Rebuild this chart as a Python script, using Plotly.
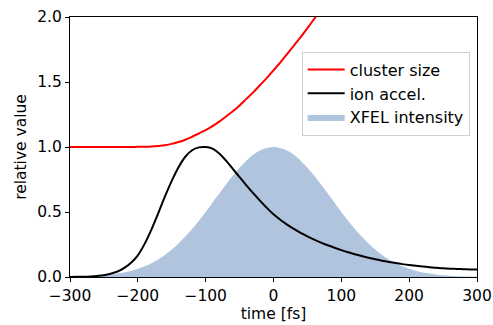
import plotly.graph_objects as go

# time axis in fs, 10 fs steps
time_fs = list(range(-300, 301, 10))

# XFEL pulse intensity (normalised)
xfel_intensity = [
    0.002, 0.003, 0.004, 0.006, 0.009, 0.013, 0.019, 0.026, 0.035, 0.047,
    0.063, 0.082, 0.106, 0.135, 0.170, 0.211, 0.258, 0.311, 0.369, 0.433,
    0.500, 0.571, 0.642, 0.712, 0.779, 0.841, 0.895, 0.940, 0.973, 0.993,
    1.000,
    0.993, 0.973, 0.940, 0.895, 0.841, 0.779, 0.712, 0.642, 0.571, 0.500,
    0.433, 0.369, 0.311, 0.258, 0.211, 0.170, 0.135, 0.106, 0.082, 0.063,
    0.047, 0.035, 0.026, 0.019, 0.013, 0.009, 0.006, 0.004, 0.003, 0.002,
]

# ion acceleration (normalised)
ion_accel = [
    0.000, 0.001, 0.002, 0.004, 0.008, 0.014, 0.025, 0.042, 0.070, 0.110,
    0.167, 0.255, 0.365, 0.490, 0.620, 0.740, 0.845, 0.925, 0.975, 0.997,
    1.000, 0.988, 0.950, 0.895, 0.832, 0.768, 0.705, 0.645, 0.588, 0.533,
    0.482,
    0.440, 0.403, 0.370, 0.340, 0.313, 0.288, 0.265, 0.244, 0.225, 0.207,
    0.190, 0.175, 0.161, 0.148, 0.136, 0.125, 0.116, 0.107, 0.099, 0.092,
    0.086, 0.080, 0.075, 0.071, 0.067, 0.064, 0.062, 0.060, 0.058, 0.057,
]

# cluster size relative to the initial size
cluster_time = list(range(-300, 81, 10))
cluster_size = [
    1.000, 1.000, 1.000, 1.000, 1.000, 1.000, 1.000, 1.000, 1.000, 1.000,
    1.001, 1.002, 1.004, 1.008, 1.014, 1.024, 1.038, 1.056, 1.079, 1.104,
    1.130, 1.160, 1.195, 1.235, 1.275, 1.320, 1.370, 1.420, 1.475, 1.530,
    1.590, 1.650, 1.715, 1.780, 1.845, 1.915, 1.985, 2.055, 2.125,
]

font = dict(family="DejaVu Sans", size=15.5, color="black")
legend_font = dict(family="DejaVu Sans", size=16, color="black")

fig = go.Figure()
fig.add_trace(go.Scatter(
    x=time_fs, y=xfel_intensity, name="XFEL intensity",
    mode="lines", fill="tozeroy", fillcolor="#b0c4de",
    line=dict(width=0, color="#b0c4de", shape="spline"),
    legendrank=3,
))
fig.add_trace(go.Scatter(
    x=cluster_time, y=cluster_size, name="cluster size",
    mode="lines", line=dict(color="#ff0000", width=2, shape="spline"),
    legendrank=1,
))
fig.add_trace(go.Scatter(
    x=time_fs, y=ion_accel, name="ion accel.",
    mode="lines", line=dict(color="black", width=2, shape="spline"),
    legendrank=2,
))

axis_common = dict(
    showline=True, linecolor="black", linewidth=1, mirror=True,
    ticks="outside", ticklen=4, tickwidth=1, tickcolor="black",
    showgrid=False, zeroline=False, tickfont=font,
)

fig.update_xaxes(
    range=[-300, 300], tickvals=[-300, -200, -100, 0, 100, 200, 300],
    title=dict(text="time [fs]", font=font, standoff=4), **axis_common,
)
fig.update_yaxes(
    range=[0, 2], tickvals=[0, 0.5, 1.0, 1.5, 2.0], tickformat=".1f",
    title=dict(text="relative value", font=font, standoff=6), **axis_common,
)

fig.update_layout(
    width=493, height=325,
    margin=dict(l=70, r=16, t=17, b=48, autoexpand=False),
    plot_bgcolor="white", paper_bgcolor="white",
    font=font,
    legend=dict(
        x=0.982, xanchor="right", y=0.867, yanchor="top",
        bgcolor="rgba(255,255,255,0.8)", bordercolor="#d0d0d0", borderwidth=1,
        font=legend_font, itemwidth=37, tracegroupgap=0,
    ),
)

fig.write_html(
    "out.html",
    post_script="document.body.style.margin='0';document.body.style.overflow='hidden';",
)
